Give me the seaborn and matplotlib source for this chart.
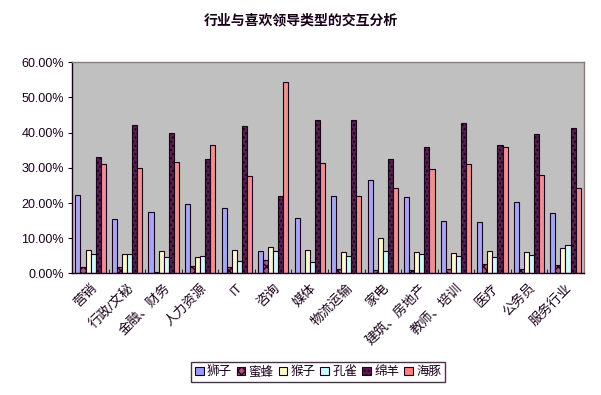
import pandas as pd
import seaborn as sns
import matplotlib.pyplot as plt
import matplotlib.transforms as mtransforms
from matplotlib.ticker import FuncFormatter, FixedLocator

# data (percent)
industries = ["营销", "行政/文秘", "金融、财务", "人力资源", "IT", "咨询", "媒体",
              "物流运输", "家电", "建筑、房地产", "教师、培训", "医疗", "公务员", "服务行业"]
types = ["狮子", "蜜蜂", "猴子", "孔雀", "绵羊", "海豚"]

lion =    [22.2, 15.4, 17.4, 19.7, 18.5, 6.3, 15.7, 21.9, 26.5, 21.7, 14.8, 14.5, 20.2, 17.1]
bee =     [1.7, 1.7, 0.3, 2.0, 1.7, 3.7, 0.0, 1.1, 0.9, 0.9, 1.1, 2.6, 1.1, 2.3]
monkey =  [6.5, 5.4, 6.3, 4.6, 6.5, 7.4, 6.5, 6.0, 10.0, 6.0, 5.7, 6.3, 6.0, 7.1]
peacock = [5.4, 5.4, 4.6, 4.8, 3.4, 6.3, 3.1, 4.8, 6.3, 5.4, 4.8, 4.6, 5.1, 8.0]
sheep =   [33.0, 42.2, 39.9, 32.5, 41.9, 21.9, 43.6, 43.6, 32.5, 35.9, 42.7, 36.5, 39.6, 41.3]
dolphin = [31.0, 29.9, 31.6, 36.5, 27.6, 54.4, 31.3, 21.9, 24.2, 29.6, 31.0, 35.9, 27.9, 24.2]

colors = ["#9999FF", "#B0507A", "#FFFFCC", "#CCFFFF", "#5A1A50", "#FF8080"]
hatches = [None, "xxxx", None, None, "....", None]

rows = []
for t, vals in zip(types, [lion, bee, monkey, peacock, sheep, dolphin]):
    for ind, v in zip(industries, vals):
        rows.append({"行业": ind, "类型": t, "比例": v})
df = pd.DataFrame(rows)

sns.set_style("white")
plt.rcParams["font.family"] = ["Liberation Sans", "Noto Sans CJK SC", "DejaVu Sans"]
ink = "#1a001a"

fig = plt.figure(figsize=(6.01, 3.95), dpi=100)
ax = fig.add_axes([0.1203, 0.308, 0.851, 0.5342])
ax.set_facecolor("#C0C0C0")

sns.barplot(data=df, x="行业", y="比例", hue="类型", order=industries, hue_order=types,
            palette=colors, errorbar=None, width=0.83, edgecolor=ink, linewidth=0.8,
            legend=False, ax=ax)

for cont, h in zip(ax.containers, hatches):
    for bar in cont:
        if h:
            bar.set_hatch(h)

ax.set_ylim(0, 60)
ax.set_xlim(-0.5, len(industries) - 0.5)
ax.set_yticks(range(0, 61, 10))
ax.yaxis.set_major_formatter(FuncFormatter(lambda v, p: f"{v:.2f}%"))
ax.set_xlabel("")
ax.set_ylabel("")

ax.set_xticks(range(len(industries)))
ax.set_xticklabels(industries, rotation=45, ha="right", va="top", rotation_mode="anchor",
                   fontsize=9.5, color=ink)
# shift labels a bit left/down like the original
offset = mtransforms.ScaledTranslation(-12 / 100, -6 / 100, fig.dpi_scale_trans)
for lbl in ax.get_xticklabels():
    lbl.set_transform(lbl.get_transform() + offset)

ax.xaxis.set_minor_locator(FixedLocator([i - 0.5 for i in range(len(industries) + 1)]))
ax.tick_params(axis="x", which="major", length=0, pad=6)
ax.tick_params(axis="x", which="minor", direction="in", length=3, color=ink, bottom=True)
ax.tick_params(axis="y", direction="out", length=3, color=ink, left=True, labelsize=9,
               labelcolor=ink, pad=3)

for s in ["left", "bottom"]:
    ax.spines[s].set_color(ink)
    ax.spines[s].set_linewidth(1)
for s in ["top", "right"]:
    ax.spines[s].set_color("#8a7a7a")
    ax.spines[s].set_linewidth(1)
    ax.spines[s].set_visible(True)

fig.text(0.5, 0.949, "行业与喜欢领导类型的交互分析", ha="center", va="center",
         fontsize=10, fontweight="bold", color=ink)

handles = [plt.Rectangle((0, 0), 1, 1, facecolor=c, edgecolor=ink, linewidth=0.8, hatch=h)
           for c, h in zip(colors, hatches)]
leg = fig.legend(handles, types, loc="center", bbox_to_anchor=(0.529, 0.058), ncol=6,
                 fontsize=9, frameon=True, fancybox=False, handlelength=0.7,
                 handleheight=0.7, handletextpad=0.25, columnspacing=0.4,
                 borderpad=0.3, labelcolor=ink)
leg.get_frame().set_edgecolor(ink)
leg.get_frame().set_linewidth(1)

fig.savefig("out.png", dpi=100)
